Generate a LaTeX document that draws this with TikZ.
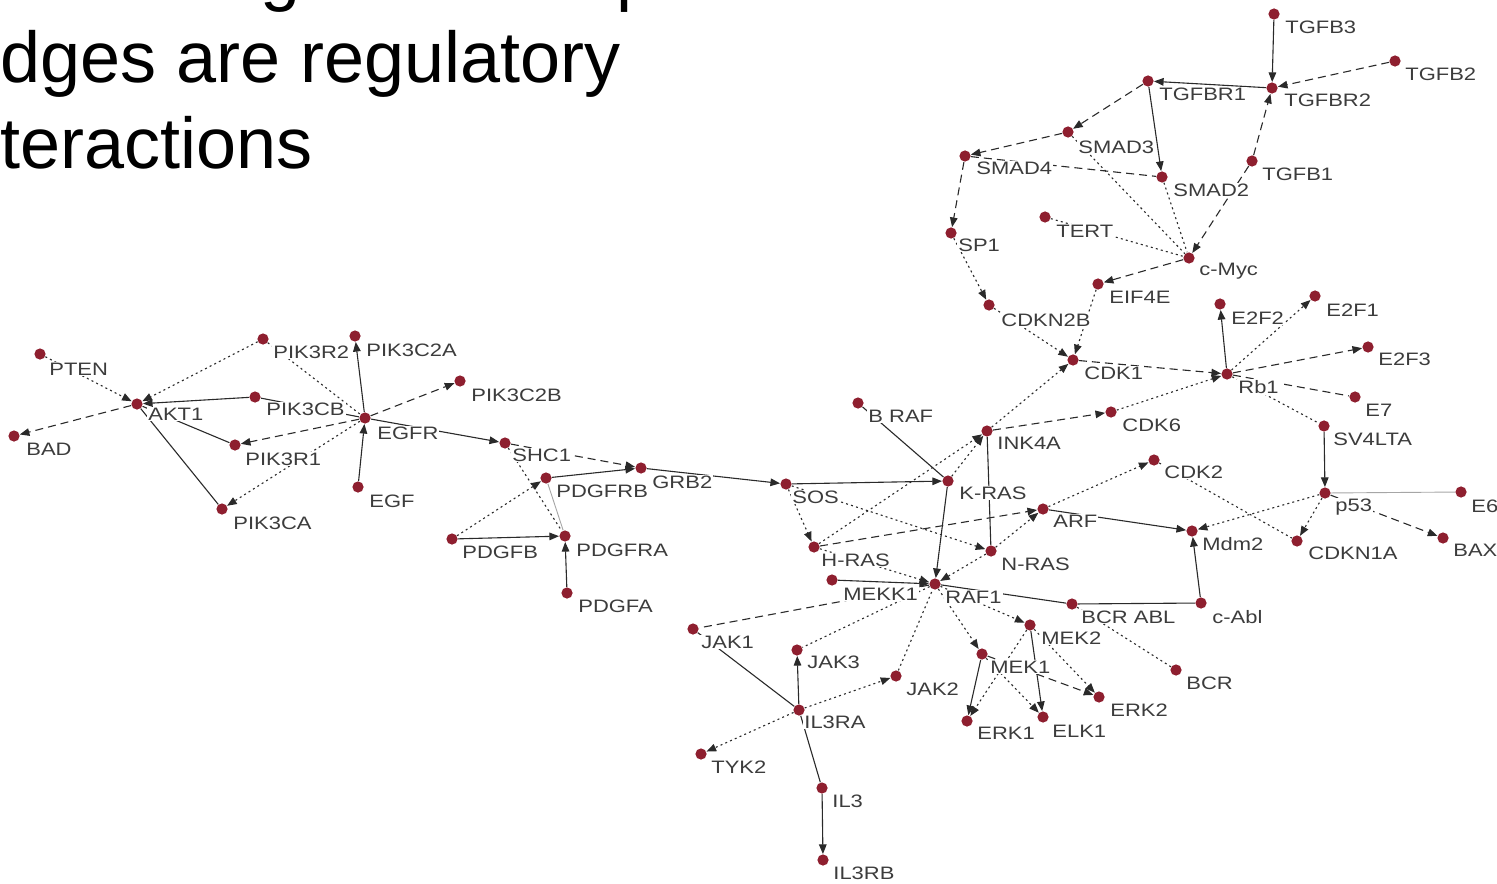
\documentclass[tikz,border=0pt]{standalone}
\usepackage{fontspec}
\setmainfont{Liberation Sans}
\newfontfamily\labfont[FakeStretch=1.22]{Liberation Sans}
\usetikzlibrary{arrows.meta}
\pgfdeclarelayer{edges}
\pgfsetlayers{edges,main}

\definecolor{dotred}{HTML}{8E1F2F}
\definecolor{edgegray}{HTML}{2A2A2A}
\definecolor{labgray}{HTML}{3C3C3C}

\tikzset{
  dot/.style={circle, fill=dotred, minimum size=5.6pt, inner sep=0pt},
  lab/.style={anchor=west, fill=white, inner sep=0.5pt, text=labgray,
              font=\labfont\fontsize{9}{9}\selectfont},
  link/.style={draw=edgegray, line width=0.55pt},
  act/.style={link, -{Triangle[length=4.8pt,width=3.8pt]}},
  dsh/.style={dash pattern=on 4pt off 2.5pt},
  dtt/.style={dash pattern=on 1pt off 1.6pt},
  faint/.style={draw=gray!70, line width=0.45pt},
  heading/.style={anchor=base west, inner sep=0pt, font=\fontsize{36}{36}\selectfont},
}

% gene node: name, x, y, label dx, label dy, label text
\newcommand\gene[6]{%
  \node[dot] (#1) at (#2,#3) {};
  \node[lab] (#1-t) at ([shift={(#4,#5)}]#1.center) {#6};}

\begin{document}
\begin{tikzpicture}[x=0.5pt,y=-0.5pt]
\useasboundingbox (0,0) rectangle (1497,883);
\clip (0,0) rectangle (1497,883);

% heading lines
\node[heading] (hl1) at (-92,-2) {Nodes are genes and proteins};
\node[heading] (hl2) at (-40,83) {edges are regulatory};
\node[heading] (hl3) at (-56,168) {interactions};

% PI3K / EGFR module
\gene{pten}{40}{354}{8}{15}{PTEN}
\gene{bad}{14}{436}{11}{13}{BAD}
\gene{akt}{137}{404}{10}{10}{AKT1}
\gene{pikrb}{263}{339}{9}{13}{PIK3R2}
\gene{pikca2}{355}{336}{10}{14}{PIK3C2A}
\gene{pikcb}{255}{397}{10}{12}{PIK3CB}
\gene{pikcb2}{460}{381}{10}{14}{PIK3C2B}
\gene{egfr}{365}{418}{11}{15}{EGFR}
\gene{pikra}{235}{445}{9}{14}{PIK3R1}
\gene{pikca}{222}{509}{10}{14}{PIK3CA}
\gene{egf}{358}{487}{10}{14}{EGF}
\gene{shc}{505}{443}{6}{12}{SHC1}
\gene{pdgfrb}{546}{478}{9}{13}{PDGFRB}
\gene{grb}{641}{468}{10}{14}{GRB2}
\gene{pdgfb}{452}{539}{9}{13}{PDGFB}
\gene{pdgfra}{565}{536}{10}{14}{PDGFRA}
\gene{pdgfa}{567}{593}{10}{13}{PDGFA}

% RAS / RAF module
\gene{sos}{786}{484}{5}{13}{SOS}
\gene{kras}{948}{481}{10}{12}{K-RAS}
\gene{braf}{858}{403}{9}{13}{B RAF}
\gene{inka}{987}{431}{9}{12}{INK4A}
\gene{cdksix}{1111}{412}{10}{13}{CDK6}
\gene{cdkone}{1073}{360}{10}{13}{CDK1}
\gene{cdknb}{989}{305}{11}{15}{CDKN2B}
\gene{eif}{1098}{284}{10}{13}{EIF4E}
\gene{hras}{814}{547}{6}{13}{H-RAS}
\gene{nras}{991}{551}{9}{13}{N-RAS}
\gene{mekk}{832}{580}{10}{14}{MEKK1}
\gene{raf}{935}{584}{9}{13}{RAF1}
\gene{mektwo}{1030}{625}{10}{13}{MEK2}
\gene{mekone}{982}{654}{7}{13}{MEK1}
\gene{erkone}{967}{721}{9}{12}{ERK1}
\gene{elk}{1043}{717}{8}{14}{ELK1}
\gene{erktwo}{1099}{697}{10}{13}{ERK2}
\gene{arf}{1043}{509}{9}{12}{ARF}
\gene{cdktwo}{1154}{460}{9}{12}{CDK2}
\gene{mdm}{1192}{531}{9}{13}{Mdm2}
\gene{cabl}{1201}{603}{10}{14}{c-Abl}
\gene{bcrabl}{1072}{604}{8}{13}{BCR ABL}
\gene{bcr}{1176}{670}{9}{13}{BCR}

% JAK / IL3 module
\gene{jakone}{693}{629}{7}{13}{JAK1}
\gene{jakthree}{797}{650}{9}{12}{JAK3}
\gene{jaktwo}{896}{676}{9}{13}{JAK2}
\gene{ilra}{799}{710}{4}{12}{IL3RA}
\gene{tyk}{701}{754}{9}{13}{TYK2}
\gene{ilthree}{822}{788}{9}{13}{IL3}
\gene{ilrb}{823}{860}{9}{13}{IL3RB}

% TGF-beta / SMAD module
\gene{tgfbthree}{1274}{14}{10}{13}{TGFB3}
\gene{tgfbtwo}{1395}{61}{9}{13}{TGFB2}
\gene{tgfbrone}{1148}{81}{10}{13}{TGFBR1}
\gene{tgfbrtwo}{1272}{88}{11}{12}{TGFBR2}
\gene{smadthree}{1068}{132}{9}{15}{SMAD3}
\gene{smadfour}{965}{156}{10}{12}{SMAD4}
\gene{tgfbone}{1252}{161}{9}{13}{TGFB1}
\gene{smadtwo}{1162}{177}{10}{13}{SMAD2}
\gene{tert}{1045}{217}{10}{14}{TERT}
\gene{sp}{951}{233}{6}{12}{SP1}
\gene{myc}{1189}{258}{9}{13}{c-Myc}

% Rb / p53 module
\gene{etwo}{1220}{304}{10}{14}{E2F2}
\gene{eone}{1315}{296}{10}{14}{E2F1}
\gene{ethree}{1368}{347}{9}{12}{E2F3}
\gene{rb}{1227}{374}{10}{13}{Rb1}
\gene{eseven}{1355}{397}{9}{13}{E7}
\gene{sv}{1324}{426}{8}{13}{SV4LTA}
\gene{pft}{1325}{493}{9}{14}{p53}
\gene{esix}{1461}{492}{9}{14}{E6}
\gene{bax}{1443}{538}{9}{12}{BAX}
\gene{cdkna}{1297}{541}{10}{12}{CDKN1A}

\begin{pgfonlayer}{edges}
  % PI3K / EGFR
  \draw[act,dtt] (pten) -- (akt);
  \draw[act,dsh] (akt) -- (bad);
  \draw[act,dtt] (pikrb) -- (akt);
  \draw[act] (pikcb) -- (akt);
  \draw[link] (akt) -- (pikra);
  \draw[link] (akt) -- (pikca);
  \draw[act,dtt] (egfr) -- (pikca);
  \draw[act,dsh] (egfr) -- (pikra);
  \draw[link,dtt] (pikrb) -- (egfr);
  \draw[link] (pikcb) -- (egfr);
  \draw[act] (egfr) -- (pikca2);
  \draw[act,dsh] (egfr) -- (pikcb2);
  \draw[act] (egf) -- (egfr);
  \draw[act] (egfr) -- (shc);
  \draw[act,dsh] (shc) -- (grb);
  \draw[act] (pdgfrb) -- (grb);
  \draw[link,dtt] (shc) -- (pdgfra);
  \draw[act,dtt] (pdgfb) -- (pdgfrb);
  \draw[faint] (pdgfrb) -- (pdgfra);
  \draw[act] (pdgfb) -- (pdgfra);
  \draw[act] (pdgfa) -- (pdgfra);
  % RAS / RAF
  \draw[act] (grb) -- (sos);
  \draw[act] (sos) -- (kras);
  \draw[act,dtt] (sos) -- (hras);
  \draw[act,dtt] (sos) -- (nras);
  \draw[act,dtt] (hras) -- (inka);
  \draw[act,dsh] (hras) -- (arf);
  \draw[act,dtt] (hras) -- (raf);
  \draw[act,dtt] (kras) -- (inka);
  \draw[link] (braf) -- (kras);
  \draw[act] (kras) -- (raf);
  \draw[link] (inka) -- (nras);
  \draw[act,dtt] (nras) -- (arf);
  \draw[act,dtt] (nras) -- (raf);
  \draw[act,dsh] (inka) -- (cdksix);
  \draw[act,dtt] (inka) -- (cdkone);
  \draw[act,dtt] (cdknb) -- (cdkone);
  \draw[act,dtt] (eif) -- (cdkone);
  \draw[act,dsh] (cdkone) -- (rb);
  \draw[act,dtt] (cdksix) -- (rb);
  \draw[act,dtt] (arf) -- (cdktwo);
  \draw[act] (arf) -- (mdm);
  \draw[act,dtt] (pft) -- (mdm);
  \draw[link,dtt] (cdktwo) -- (cdkna);
  \draw[act] (cabl) -- (mdm);
  \draw[link] (bcrabl) -- (cabl);
  \draw[link] (raf) -- (bcrabl);
  \draw[link,dtt] (bcrabl) -- (bcr);
  \draw[act] (mekk) -- (raf);
  \draw[act,dtt] (raf) -- (mektwo);
  \draw[act,dtt] (raf) -- (mekone);
  \draw[act] (mekone) -- (erkone);
  \draw[act,dtt] (mektwo) -- (erkone);
  \draw[act] (mektwo) -- (elk);
  \draw[act,dtt] (mekone) -- (elk);
  \draw[act,dsh] (mekone) -- (erktwo);
  \draw[act,dtt] (mektwo) -- (erktwo);
  % JAK / IL3
  \draw[link,dtt] (jaktwo) -- (raf);
  \draw[link,dsh] (raf) -- (jakone);
  \draw[link,dtt] (raf) -- (jakthree);
  \draw[act,dtt] (ilra) -- (jaktwo);
  \draw[act] (ilra) -- (jakthree);
  \draw[link] (jakone) -- (ilra);
  \draw[act,dtt] (ilra) -- (tyk);
  \draw[link] (ilra) -- (ilthree);
  \draw[act] (ilthree) -- (ilrb);
  % TGF-beta / SMAD
  \draw[act] (tgfbthree) -- (tgfbrtwo);
  \draw[act,dsh] (tgfbtwo) -- (tgfbrtwo);
  \draw[act] (tgfbrtwo) -- (tgfbrone);
  \draw[act,dsh] (tgfbone) -- (tgfbrtwo);
  \draw[act,dsh] (tgfbrone) -- (smadthree);
  \draw[act] (tgfbrone) -- (smadtwo);
  \draw[act,dsh] (smadthree) -- (smadfour);
  \draw[link,dsh] (smadfour) -- (smadtwo);
  \draw[link,dtt] (smadthree) -- (myc);
  \draw[link,dtt] (smadtwo) -- (myc);
  \draw[act,dsh] (tgfbone) -- (myc);
  \draw[link,dtt] (tert) -- (myc);
  \draw[act,dsh] (smadfour) -- (sp);
  \draw[act,dtt] (sp) -- (cdknb);
  \draw[act,dsh] (myc) -- (eif);
  % Rb / p53
  \draw[act] (rb) -- (etwo);
  \draw[act,dtt] (rb) -- (eone);
  \draw[act,dsh] (rb) -- (ethree);
  \draw[link,dsh] (rb) -- (eseven);
  \draw[link,dtt] (rb) -- (sv);
  \draw[act] (sv) -- (pft);
  \draw[act,dtt] (pft) -- (cdkna);
  \draw[faint] (esix) -- (pft);
  \draw[act,dsh] (pft) -- (bax);
\end{pgfonlayer}
\end{tikzpicture}
\end{document}
